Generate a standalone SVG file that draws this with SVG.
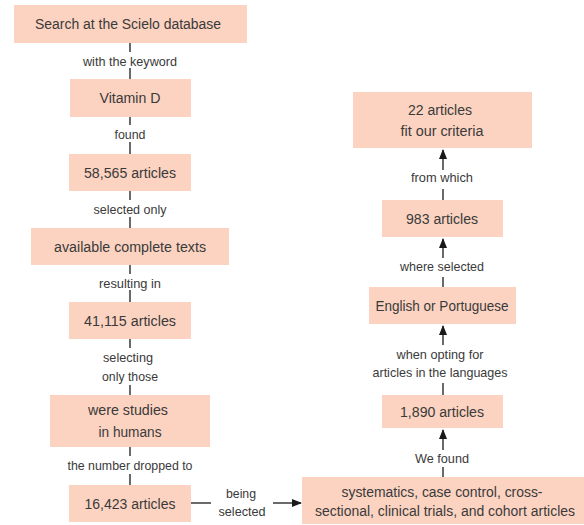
<svg xmlns="http://www.w3.org/2000/svg" width="584" height="525" viewBox="0 0 584 525">
<style>
.box{fill:#fcd3c1;stroke:none}
.t{font-family:"Liberation Sans",Arial,sans-serif;font-size:15.5px;fill:#3a3a3a;text-anchor:middle}
.l{font-family:"Liberation Sans",Arial,sans-serif;font-size:13px;fill:#3a3a3a;text-anchor:middle}
.c{stroke:#1a1a1a;stroke-width:1.3;fill:none}
</style>
<defs>
<marker id="ah" markerWidth="10" markerHeight="10" refX="9" refY="5" orient="auto" markerUnits="userSpaceOnUse">
<path d="M0,1 L10,5 L0,9 Z" fill="#1a1a1a"/>
</marker>
</defs>
<g id="connectors">
<line class="c" x1="130" y1="43" x2="130" y2="52"/>
<line class="c" x1="130" y1="68" x2="130" y2="79"/>
<line class="c" x1="130" y1="117" x2="130" y2="125"/>
<line class="c" x1="130" y1="142" x2="130" y2="154"/>
<line class="c" x1="130" y1="191" x2="130" y2="200"/>
<line class="c" x1="130" y1="217" x2="130" y2="228"/>
<line class="c" x1="130" y1="265" x2="130" y2="274"/>
<line class="c" x1="130" y1="290" x2="130" y2="302"/>
<line class="c" x1="130" y1="339" x2="130" y2="348"/>
<line class="c" x1="130" y1="385" x2="130" y2="395"/>
<line class="c" x1="130" y1="447" x2="130" y2="456"/>
<line class="c" x1="130" y1="474" x2="130" y2="485"/>
<line class="c" x1="191" y1="503" x2="211" y2="503"/>
<line class="c" x1="273" y1="503" x2="301" y2="503" marker-end="url(#ah)"/>
<line class="c" x1="443" y1="477" x2="443" y2="467"/>
<line class="c" x1="443" y1="450" x2="443" y2="430" marker-end="url(#ah)"/>
<line class="c" x1="443" y1="395" x2="443" y2="383"/>
<line class="c" x1="443" y1="345" x2="443" y2="326" marker-end="url(#ah)"/>
<line class="c" x1="443" y1="287" x2="443" y2="277"/>
<line class="c" x1="443" y1="258" x2="443" y2="239" marker-end="url(#ah)"/>
<line class="c" x1="443" y1="200" x2="443" y2="189"/>
<line class="c" x1="443" y1="170" x2="443" y2="150" marker-end="url(#ah)"/>
<text class="l" x="130" y="66" textLength="94" lengthAdjust="spacingAndGlyphs">with the keyword</text>
<text class="l" x="130" y="139" textLength="31" lengthAdjust="spacingAndGlyphs">found</text>
<text class="l" x="130" y="214" textLength="73" lengthAdjust="spacingAndGlyphs">selected only</text>
<text class="l" x="130" y="288" textLength="62" lengthAdjust="spacingAndGlyphs">resulting in</text>
<text class="l" x="128" y="362" textLength="50" lengthAdjust="spacingAndGlyphs">selecting</text>
<text class="l" x="130" y="381" textLength="56" lengthAdjust="spacingAndGlyphs">only those</text>
<text class="l" x="130" y="470" textLength="125" lengthAdjust="spacingAndGlyphs">the number dropped to</text>
<text class="l" x="241" y="498" textLength="30" lengthAdjust="spacingAndGlyphs">being</text>
<text class="l" x="242" y="516" textLength="47" lengthAdjust="spacingAndGlyphs">selected</text>
<text class="l" x="442" y="463" textLength="54" lengthAdjust="spacingAndGlyphs">We found</text>
<text class="l" x="440" y="359" textLength="87" lengthAdjust="spacingAndGlyphs">when opting for</text>
<text class="l" x="440" y="377" textLength="135" lengthAdjust="spacingAndGlyphs">articles in the languages</text>
<text class="l" x="442" y="271" textLength="84" lengthAdjust="spacingAndGlyphs">where selected</text>
<text class="l" x="442" y="182" textLength="62" lengthAdjust="spacingAndGlyphs">from which</text>
</g>
<g id="n1"><rect class="box" x="14" y="5" width="233" height="38"/><text class="t" x="128" y="29" textLength="186" lengthAdjust="spacingAndGlyphs">Search at the Scielo database</text></g>
<g id="n2"><rect class="box" x="70" y="79" width="121" height="38"/><text class="t" x="130" y="103" textLength="61" lengthAdjust="spacingAndGlyphs">Vitamin D</text></g>
<g id="n3"><rect class="box" x="69" y="154" width="122" height="37"/><text class="t" x="130" y="178" textLength="92" lengthAdjust="spacingAndGlyphs">58,565 articles</text></g>
<g id="n4"><rect class="box" x="31" y="228" width="198" height="37"/><text class="t" x="130" y="252" textLength="152" lengthAdjust="spacingAndGlyphs">available complete texts</text></g>
<g id="n5"><rect class="box" x="69" y="302" width="122" height="37"/><text class="t" x="130" y="326" textLength="92" lengthAdjust="spacingAndGlyphs">41,115 articles</text></g>
<g id="n6"><rect class="box" x="50" y="395" width="160" height="52"/><text class="t" x="128" y="415" textLength="80" lengthAdjust="spacingAndGlyphs">were studies</text><text class="t" x="130" y="437" textLength="63" lengthAdjust="spacingAndGlyphs">in humans</text></g>
<g id="n7"><rect class="box" x="69" y="485" width="122" height="37"/><text class="t" x="130" y="509" textLength="91" lengthAdjust="spacingAndGlyphs">16,423 articles</text></g>
<g id="n8"><rect class="box" x="302" y="477" width="282" height="47"/><text class="t" x="442" y="497" textLength="201" lengthAdjust="spacingAndGlyphs">systematics, case control, cross-</text><text class="t" x="445" y="516" textLength="260" lengthAdjust="spacingAndGlyphs">sectional, clinical trials, and cohort articles</text></g>
<g id="n9"><rect class="box" x="382" y="395" width="121" height="33"/><text class="t" x="442" y="417" textLength="84" lengthAdjust="spacingAndGlyphs">1,890 articles</text></g>
<g id="n10"><rect class="box" x="369" y="287" width="147" height="37"/><text class="t" x="442" y="311" textLength="133" lengthAdjust="spacingAndGlyphs">English or Portuguese</text></g>
<g id="n11"><rect class="box" x="382" y="200" width="121" height="37"/><text class="t" x="442" y="224" textLength="72" lengthAdjust="spacingAndGlyphs">983 articles</text></g>
<g id="n12"><rect class="box" x="353" y="92" width="179" height="56"/><text class="t" x="440" y="115" textLength="64" lengthAdjust="spacingAndGlyphs">22 articles</text><text class="t" x="442" y="136" textLength="83" lengthAdjust="spacingAndGlyphs">fit our criteria</text></g>
</svg>
